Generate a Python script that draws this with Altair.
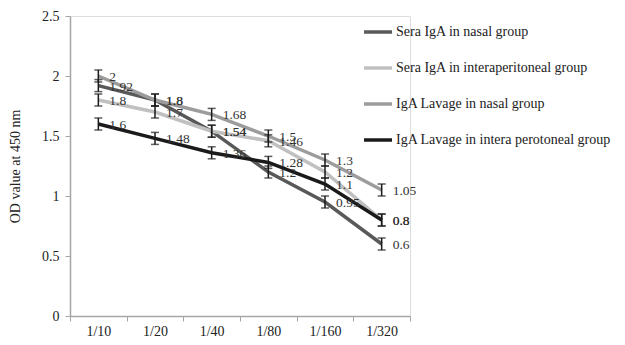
import altair as alt
import pandas as pd

dilutions = ["1/10", "1/20", "1/40", "1/80", "1/160", "1/320"]
series_names = [
    "Sera IgA in nasal group",
    "Sera IgA in interaperitoneal group",
    "IgA Lavage in nasal group",
    "IgA Lavage in intera perotoneal group",
]
sera_nasal = [1.92, 1.8, 1.54, 1.2, 0.95, 0.6]
sera_ip = [1.8, 1.7, 1.54, 1.46, 1.2, 0.8]
lavage_nasal = [2.0, 1.8, 1.68, 1.5, 1.3, 1.05]
lavage_ip = [1.6, 1.48, 1.36, 1.28, 1.1, 0.8]
err = 0.05
colors = ["#595959", "#c0c0c0", "#9c9c9c", "#1a1a1a"]

rows = []
for name, vals in zip(series_names, [sera_nasal, sera_ip, lavage_nasal, lavage_ip]):
    for i, (d, v) in enumerate(zip(dilutions, vals)):
        rows.append({"dil": d, "idx": i, "series": name, "value": v,
                     "lo": v - err, "hi": v + err, "label": f"{v:g}"})
df = pd.DataFrame(rows)

FONT = "Liberation Serif"

x = alt.X("dil:N", sort=dilutions, title=None,
          scale=alt.Scale(paddingInner=0, paddingOuter=0),
          axis=alt.Axis(labelAngle=0, labelFontSize=14, labelFont=FONT, labelColor="#222",
                        domainColor="#a6a6a6", domainWidth=1.5, tickColor="#a6a6a6",
                        tickBand="extent", tickSize=5, labelPadding=3, grid=False))
y = alt.Y("value:Q", title="OD value at 450 nm",
          scale=alt.Scale(domain=[0, 2.5], nice=False),
          axis=alt.Axis(values=[0, 0.5, 1, 1.5, 2, 2.5], format="~g", labelFontSize=14,
                        labelFont=FONT, labelColor="#222", titleFont=FONT, titleFontSize=14,
                        titleFontWeight="normal", titleColor="#222", titlePadding=19,
                        domainColor="#a6a6a6", domainWidth=1.5, tickColor="#a6a6a6",
                        tickSize=5, labelPadding=6, grid=False))

color = alt.Color("series:N", sort=series_names,
                  scale=alt.Scale(domain=series_names, range=colors),
                  legend=alt.Legend(title=None, orient="none", legendX=292, legendY=0,
                                    symbolType="stroke", symbolSize=784,
                                    symbolStrokeWidth=3.5, labelFont=FONT,
                                    labelFontSize=14, labelColor="#222",
                                    labelOffset=2, rowPadding=13, labelLimit=300))

base = alt.Chart(df)
lines = base.mark_line(strokeWidth=3.5).encode(x=x, y=y, color=color,
                                               order=alt.Order("idx:Q"))
rules = base.mark_rule(color="#1a1a1a", strokeWidth=1.5).encode(
    x=alt.X("dil:N", sort=dilutions), y="lo:Q", y2="hi:Q")
caps_lo = base.mark_tick(color="#1a1a1a", thickness=1.5, size=8, orient="horizontal").encode(
    x=alt.X("dil:N", sort=dilutions), y="lo:Q")
caps_hi = base.mark_tick(color="#1a1a1a", thickness=1.5, size=8, orient="horizontal").encode(
    x=alt.X("dil:N", sort=dilutions), y="hi:Q")
labels = base.mark_text(align="left", baseline="middle", dx=11, dy=1, font=FONT,
                        fontSize=13.5, color="#333").encode(
    x=alt.X("dil:N", sort=dilutions), y="value:Q", text="label:N")

chart = alt.layer(lines, rules, caps_lo, caps_hi, labels).properties(
    width=340, height=300,
    autosize=alt.AutoSizeParams(type="none"),
    padding={"left": 70, "top": 16, "right": 215, "bottom": 29},
).configure_view(stroke=None).configure(background="white")

chart.save("out.html", embed_options={"renderer": "svg", "actions": False})
